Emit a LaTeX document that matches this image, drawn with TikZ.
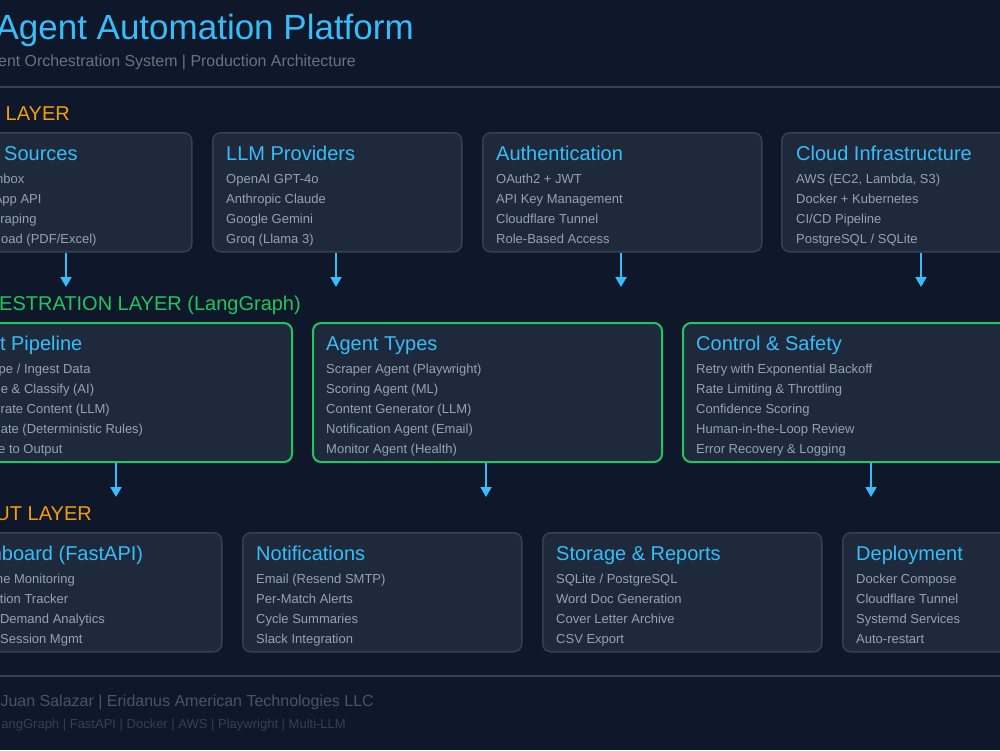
\documentclass[tikz,border=0pt]{standalone}
\usepackage{fontspec}
\setmainfont{Liberation Sans}
\usetikzlibrary{arrows.meta}
\definecolor{bgc}{HTML}{0F172A}
\definecolor{boxc}{HTML}{1E293B}
\definecolor{borderc}{HTML}{334155}
\definecolor{bluec}{HTML}{38BDF8}
\definecolor{itemc}{HTML}{94A3B8}
\definecolor{subc}{HTML}{64748B}
\definecolor{greenc}{HTML}{22C55E}
\definecolor{orangec}{HTML}{F59E0B}
\definecolor{foota}{HTML}{475569}
\definecolor{footb}{HTML}{334155}
\tikzset{
  txt/.style={inner sep=0pt, anchor=base west},
  rtxt/.style={inner sep=0pt, anchor=base east},
  cardbox/.style={draw=borderc, line width=1.5pt, fill=boxc, rounded corners=8pt, anchor=north west, inner sep=0pt, minimum height=119pt},
  greenbox/.style={cardbox, draw=greenc, line width=2pt, minimum height=139pt},
  boxtitle/.style={font=\fontsize{20}{24}\selectfont, text=bluec},
  item/.style={font=\fontsize{13}{15}\selectfont, text=itemc},
  layerlab/.style={font=\fontsize{20}{24}\selectfont},
  flow/.style={draw=bluec, line width=2pt, -{Triangle[length=10pt,width=11pt]}},
  rulel/.style={draw=borderc, line width=1.5pt}
}
\begin{document}
\begin{tikzpicture}[x=1pt,y=-1pt]
\useasboundingbox (0,0) rectangle (1000,750);
\clip (0,0) rectangle (1000,750);
\fill[bgc] (0,0) rectangle (1000,750);

% header
\node[rtxt, font=\fontsize{35}{42}\selectfont, text=bluec] (title) at (414,39) {Agent Automation Platform};
\node[rtxt, font=\fontsize{15.9}{19}\selectfont, text=subc] (subtitle) at (356,66) {ent Orchestration System | Production Architecture};
\coordinate (hl) at (-10,87); \coordinate (hr) at (1010,87);
\draw[rulel] (hl) -- (hr);

% layer labels
\node[rtxt, layerlab, text=orangec] (lay1) at (70,120) {LAYER};
\node[rtxt, layerlab, text=greenc] (lay2) at (301,310) {ESTRATION LAYER (LangGraph)};
\node[rtxt, layerlab, text=orangec] (lay3) at (92,520) {UT LAYER};

% ---------- top row ----------
\node[cardbox, minimum width=250pt] (in1) at (-59,132) {};
\node[cardbox, minimum width=249pt] (in2) at (212,132) {};
\node[cardbox, minimum width=279pt] (in3) at (482,132) {};
\node[cardbox, minimum width=280pt] (in4) at (781,132) {};

\node[txt, boxtitle] (in1t) at (4,160) {Sources};
\node[rtxt, item] (in1a) at (24.5,183) {nbox};
\node[rtxt, item] (in1b) at (41.7,203) {App API};
\node[rtxt, item] (in1c) at (36.7,223) {Scraping};
\node[rtxt, item] (in1d) at (96.7,243) {oad (PDF/Excel)};

\node[txt, boxtitle] (in2t) at (226,160) {LLM Providers};
\node[txt, item] (in2a) at (226,183) {OpenAI GPT-4o};
\node[txt, item] (in2b) at (226,203) {Anthropic Claude};
\node[txt, item] (in2c) at (226,223) {Google Gemini};
\node[txt, item] (in2d) at (226,243) {Groq (Llama 3)};

\node[txt, boxtitle] (in3t) at (496,160) {Authentication};
\node[txt, item] (in3a) at (496,183) {OAuth2 + JWT};
\node[txt, item] (in3b) at (496,203) {API Key Management};
\node[txt, item] (in3c) at (496,223) {Cloudflare Tunnel};
\node[txt, item] (in3d) at (496,243) {Role-Based Access};

\node[txt, boxtitle] (in4t) at (796,160) {Cloud Infrastructure};
\node[txt, item] (in4a) at (796,183) {AWS (EC2, Lambda, S3)};
\node[txt, item] (in4b) at (796,203) {Docker + Kubernetes};
\node[txt, item] (in4c) at (796,223) {CI/CD Pipeline};
\node[txt, item] (in4d) at (796,243) {PostgreSQL / SQLite};

\coordinate (in1e) at (66,287);
\coordinate (in2e) at (336,287);
\coordinate (in3e) at (621,287);
\coordinate (in4e) at (921,287);
\foreach \n in {in1,in2,in3,in4}{
  \draw[flow] (\n e |- \n.south) -- (\n e);
}

% ---------- middle row ----------
\node[greenbox, minimum width=350pt] (or1) at (-59,322) {};
\node[greenbox, minimum width=349pt] (or2) at (312,322) {};
\node[greenbox, minimum width=378pt] (or3) at (682,322) {};

\node[rtxt, boxtitle] (or1t) at (82.5,350) {t Pipeline};
\node[rtxt, item] (or1a) at (90.7,373) {pe / Ingest Data};
\node[rtxt, item] (or1b) at (94.3,393) {e \& Classify (AI)};
\node[rtxt, item] (or1c) at (110,413) {erate Content (LLM)};
\node[rtxt, item] (or1d) at (143.3,433) {ate (Deterministic Rules)};
\node[rtxt, item] (or1e) at (62.7,453) {e to Output};

\node[txt, boxtitle] (or2t) at (326,350) {Agent Types};
\node[txt, item] (or2a) at (326,373) {Scraper Agent (Playwright)};
\node[txt, item] (or2b) at (326,393) {Scoring Agent (ML)};
\node[txt, item] (or2c) at (326,413) {Content Generator (LLM)};
\node[txt, item] (or2d) at (326,433) {Notification Agent (Email)};
\node[txt, item] (or2e) at (326,453) {Monitor Agent (Health)};

\node[txt, boxtitle] (or3t) at (696,350) {Control \& Safety};
\node[txt, item] (or3a) at (696,373) {Retry with Exponential Backoff};
\node[txt, item] (or3b) at (696,393) {Rate Limiting \& Throttling};
\node[txt, item] (or3c) at (696,413) {Confidence Scoring};
\node[txt, item] (or3d) at (696,433) {Human-in-the-Loop Review};
\node[txt, item] (or3e) at (696,453) {Error Recovery \& Logging};

\coordinate (or1x) at (116,497);
\coordinate (or2x) at (486,497);
\coordinate (or3x) at (871,497);
\foreach \n in {or1,or2,or3}{
  \draw[flow] (\n x |- \n.south) -- (\n x);
}

% ---------- bottom row ----------
\node[cardbox, minimum width=280pt] (ou1) at (-59,532) {};
\node[cardbox, minimum width=279pt] (ou2) at (242,532) {};
\node[cardbox, minimum width=279pt] (ou3) at (542,532) {};
\node[cardbox, minimum width=280pt] (ou4) at (842,532) {};

\node[rtxt, boxtitle] (ou1t) at (143.3,560) {hboard (FastAPI)};
\node[rtxt, item] (ou1a) at (75,583) {me Monitoring};
\node[rtxt, item] (ou1b) at (68.3,603) {tion Tracker};
\node[rtxt, item] (ou1c) at (105,623) {Demand Analytics};
\node[rtxt, item] (ou1d) at (82.7,643) {Session Mgmt};

\node[txt, boxtitle] (ou2t) at (256,560) {Notifications};
\node[txt, item] (ou2a) at (256,583) {Email (Resend SMTP)};
\node[txt, item] (ou2b) at (256,603) {Per-Match Alerts};
\node[txt, item] (ou2c) at (256,623) {Cycle Summaries};
\node[txt, item] (ou2d) at (256,643) {Slack Integration};

\node[txt, boxtitle] (ou3t) at (556,560) {Storage \& Reports};
\node[txt, item] (ou3a) at (556,583) {SQLite / PostgreSQL};
\node[txt, item] (ou3b) at (556,603) {Word Doc Generation};
\node[txt, item] (ou3c) at (556,623) {Cover Letter Archive};
\node[txt, item] (ou3d) at (556,643) {CSV Export};

\node[txt, boxtitle] (ou4t) at (856,560) {Deployment};
\node[txt, item] (ou4a) at (856,583) {Docker Compose};
\node[txt, item] (ou4b) at (856,603) {Cloudflare Tunnel};
\node[txt, item] (ou4c) at (856,623) {Systemd Services};
\node[txt, item] (ou4d) at (856,643) {Auto-restart};

% footer
\coordinate (fl) at (-10,676); \coordinate (fr) at (1010,676);
\draw[rulel] (fl) -- (fr);
\node[rtxt, font=\fontsize{16}{20}\selectfont, text=foota] (foot1) at (374,706) {Juan Salazar | Eridanus American Technologies LLC};
\node[rtxt, font=\fontsize{13}{16}\selectfont, text=footb] (foot2) at (346,728) {angGraph | FastAPI | Docker | AWS | Playwright | Multi-LLM};
\end{tikzpicture}
\end{document}
